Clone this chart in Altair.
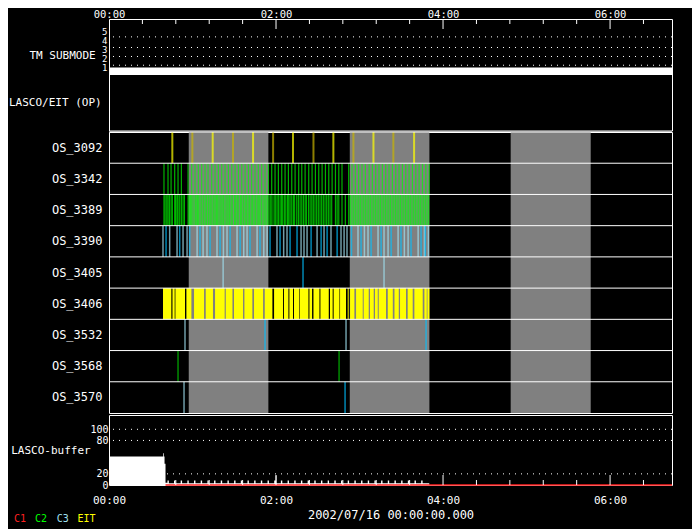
import altair as alt
import pandas as pd

FONT = "DejaVu Sans Mono"

# ---------------- data (time in minutes after 2002/07/16 00:00) ----------------
T_END = 404.5
TIME_LABELS = [0, 120, 240, 360]
MAJOR_TICKS = [120, 240, 360]
MINOR_TICKS = [24, 48, 72, 96, 144, 168, 192, 216, 264, 288, 312, 336, 384]

SUBMODE_T = [0.0, 404.5]
SUBMODE_V = [1, 1]
SUBMODE_LABELS = [1, 2, 3, 4, 5]
SUBMODE_DOTS = [4.37, 3.19, 2.19, 1.22]

ROWS = ["OS_3092", "OS_3342", "OS_3389", "OS_3390", "OS_3405",
        "OS_3406", "OS_3532", "OS_3568", "OS_3570"]

GRAY_START = [57.3, 173.0, 288.6]
GRAY_END = [114.5, 230.2, 346.1]

OS3092_T = [45.5, 59.9, 74.5, 89.1, 103.5, 117.9, 132.2, 146.9, 161.2, 175.6, 190.0, 204.3, 219.2]
OS3092_K = "YOYOYOYOYOYOY"

OS3342_T = [39.5, 42.4, 44.6, 47.2, 49.6, 52.0, 56.8, 59.4, 61.8, 64.2, 66.6, 69.0, 71.2, 73.8,
            76.2, 78.6, 81.0, 83.4, 85.8, 88.2, 90.6, 93.0, 95.4, 97.8, 100.2, 102.5, 104.9,
            107.3, 109.7, 112.1, 114.5, 116.9, 119.3, 121.7, 124.1, 126.5, 128.9, 131.3, 133.7,
            136.3, 138.5, 140.9, 143.5, 145.9, 148.3, 150.7, 153.1, 155.5, 157.9, 160.3, 162.7,
            165.1, 167.4, 172.2, 174.6, 177.0, 179.4, 181.8, 184.2, 186.9, 189.2, 191.6, 194.0,
            196.4, 198.8, 201.2, 203.6, 206.0, 208.4, 210.8, 213.2, 215.6, 218.0, 220.4, 222.8,
            225.2, 227.6, 230.0]

OS3389_T = [39.5, 40.3, 41.5, 42.4, 43.4, 44.6, 45.5, 47.2, 47.9, 48.9, 49.6, 50.8, 52.0, 53.2,
            54.2, 56.8, 57.5, 58.5, 59.4, 60.4, 61.8, 62.5, 63.5, 64.2, 65.4, 66.6, 67.8, 69.0,
            70.0, 71.2, 71.9, 73.1, 74.0, 75.2, 76.2, 77.2, 78.1, 79.1, 80.3, 81.2, 82.2, 83.4,
            84.6, 85.5, 86.5, 87.7, 88.6, 90.1, 91.0, 92.2, 93.2, 94.6, 95.4, 96.6, 97.8, 98.7,
            99.9, 100.9, 102.1, 103.0, 104.2, 105.2, 106.4, 107.3, 108.3, 109.5, 110.7, 111.9,
            112.8, 114.0, 115.0, 116.2, 117.1, 118.6, 119.5, 120.7, 121.7, 122.9, 123.9, 124.8,
            126.0, 127.0, 128.2, 129.1, 130.1, 131.3, 132.5, 133.4, 134.9, 136.1, 137.3, 138.5,
            139.7, 140.9, 141.8, 143.3, 144.5, 145.7, 146.8, 148.0, 149.2, 150.4, 151.6, 152.8,
            154.0, 155.2, 156.4, 157.6, 158.8, 160.0, 162.7, 163.9, 165.1, 167.4, 169.8, 172.2,
            173.4, 174.6, 175.8, 177.0, 178.2, 179.4, 180.6, 181.8, 183.0, 184.2, 185.4, 186.6,
            187.8, 189.0, 190.2, 191.4, 192.6, 193.8, 195.0, 196.2, 197.4, 198.6, 199.8, 201.0,
            202.2, 203.4, 204.6, 205.8, 207.0, 208.2, 209.4, 210.6, 211.8, 213.0, 214.2, 215.3,
            216.5, 217.7, 218.9, 220.1, 221.3, 222.5, 223.7, 224.9, 226.1, 227.3, 228.5, 229.7]

OS3390_T = [38.8, 41.0, 43.6, 48.9, 50.8, 53.2, 56.1, 58.0, 63.3, 65.4, 67.6, 70.4, 72.6, 77.6,
            79.8, 82.2, 84.8, 87.0, 92.0, 94.2, 96.8, 99.2, 101.3, 106.4, 108.5, 111.2, 113.6,
            115.7, 120.7, 122.9, 125.5, 127.9, 130.1, 135.1, 138.0, 140.1, 142.3, 145.2, 149.5,
            152.4, 154.5, 156.7, 159.5, 163.9, 166.7, 168.9, 171.0, 174.2, 178.9, 181.1, 183.5,
            186.1, 188.3, 193.3, 195.5, 197.6, 200.5, 202.7, 207.7, 209.8, 212.2, 214.9, 217.0,
            222.1, 224.2, 226.6, 227.3, 229.5]
OS3390_K = "LCLLCLLCLCLLCLCLLCLCLLCLCLLCLCLLC" + "CLLLCLCLCLCLLLCLCLLCLCLLCLCLLCLCLCL"

OS3405_T = [82.0, 139.4, 197.6]
OS3405_K = "LCL"

OS3406_START = [38.8, 45.6, 47.7, 55.6, 61.1, 69.5, 76.2, 83.9, 89.8, 97.3, 104.2, 111.9, 118.6,
                125.7, 129.6, 132.9, 137.2, 144.0, 146.9, 151.9, 158.8, 161.4, 166.0, 171.5,
                173.2, 177.5, 183.0, 187.5, 191.1, 193.8, 200.3, 205.1, 209.1, 214.6, 219.4,
                226.6, 228.8]
OS3406_END = [44.8, 47.2, 54.6, 59.2, 68.3, 74.7, 83.1, 88.7, 96.3, 103.0, 110.7, 117.4, 125.0,
              128.9, 132.2, 136.8, 143.3, 145.9, 151.2, 157.9, 160.7, 165.6, 170.3, 172.2,
              176.3, 182.3, 186.6, 190.2, 193.1, 199.0, 203.9, 208.2, 213.4, 218.2, 225.4,
              228.3, 230.2]

OS3532_T = [54.6, 112.1, 170.3, 227.8]
OS3532_K = "LCLC"
OS3568_T = [49.6, 165.3]
OS3568_K = "gg"
OS3570_T = [53.9, 169.6]
OS3570_K = "LC"

BUF_T = [0.0, 38.8, 39.3, 39.9, 40.6, 42.0, 43.0, 46.7, 47.7, 51.5, 52.5, 56.3, 57.3, 61.1, 62.1,
         65.9, 66.9, 70.7, 71.7, 75.5, 76.5, 80.3, 81.3, 85.1, 86.1, 89.9, 90.9, 94.7, 95.7,
         99.5, 100.5, 104.3, 105.3, 109.1, 110.1, 113.9, 114.9, 118.7, 119.7, 120.3, 123.5,
         124.5, 128.3, 129.3, 133.1, 134.1, 137.9, 138.9, 142.7, 143.7, 147.5, 148.5, 152.3,
         153.3, 157.1, 158.1, 161.9, 162.9, 166.7, 167.7, 171.5, 172.5, 176.3, 177.3, 181.1,
         182.1, 185.9, 186.9, 190.7, 191.7, 195.5, 196.5, 200.3, 201.3, 205.1, 206.1, 209.9,
         210.9, 214.7, 215.7, 219.5, 220.5, 224.3, 225.3, 229.1, 230.1]
BUF_V = [51, 57, 51, 38, 4, 8, 3, 8, 3, 8, 3, 8, 3, 8, 3,
         8, 3, 8, 3, 8, 3, 8, 3, 8, 3, 8, 3, 8, 3,
         8, 3, 8, 3, 8, 3, 8, 3, 8, 17, 3, 8,
         3, 8, 3, 8, 3, 8, 3, 8, 3, 8, 3, 8,
         3, 8, 3, 8, 3, 8, 3, 8, 3, 8, 3, 8,
         3, 8, 3, 8, 3, 8, 3, 8, 3, 8, 3, 8,
         3, 8, 3, 8, 3, 8, 3, 3, 0]
BUF_LABELS = [0, 20, 80, 100]
BUF_DOTS = [20, 80, 100]
C1_T = [40.6, 404.5]
C1_V = [0, 0]

LEGEND_LABELS = ["C1", "C2", "C3", "EIT"]
LEGEND_COLORS = ["#ff2020", "#00ff00", "#a0e0f0", "#ffff00"]

KINDS = ["Y", "O", "G", "g", "L", "C"]
KIND_COLORS = ["#ffff00", "#c8b400", "#00ff00", "#00c800", "#a0e0f0", "#00c0ff"]

# ---------------- layout ----------------
W = 563
H1, H2, H3 = 111.5, 281, 70
SUB_PX = 9.0
sub_lo = 1 - 63.3 / SUB_PX
sub_hi = sub_lo + H1 / SUB_PX
buf_hi = H3 / 0.557

label_expr = "'0' + floor(datum.value / 60) + ':00'"


def time_axis(orient, title=None):
    kw = dict(orient=orient, values=TIME_LABELS, labelExpr=label_expr, ticks=False, tickSize=0,
              domain=False, grid=False, labelFont=FONT, labelColor="white",
              labelFlush=False, labelOverlap=False)
    if orient == "top":
        kw.update(labelPadding=0, labelFontSize=10.5)
    else:
        kw.update(labelPadding=9, labelFontSize=11, title=title, titleFont=FONT, titleFontSize=12,
                  titleFontWeight="normal", titleColor="white", titlePadding=4)
    return alt.Axis(**kw)


xscale = alt.Scale(domain=[0, T_END], nice=False, zero=False)


def X(field, axis):
    return alt.X(f"{field}:Q", scale=xscale, axis=axis, title=None if axis is None else axis.to_dict().get("title"))


def text_layer(txt, x, y, size=11, align="right", color="white"):
    return alt.Chart(pd.DataFrame({"label": [txt]})).mark_text(
        align=align, baseline="middle", font=FONT, fontSize=size, color=color
    ).encode(text="label:N", x=alt.value(x), y=alt.value(y))


# ---- panel 1: TM submode + LASCO/EIT (OP)
top_ax = time_axis("top")
sub_scale = alt.Scale(domain=[sub_lo, sub_hi], nice=False, zero=False)
sub_axis = alt.Axis(values=SUBMODE_LABELS, ticks=False, tickSize=0, domain=False, grid=False,
                    labelPadding=2, labelFontSize=9, labelFont=FONT, labelColor="white",
                    labelOverlap=False, title=None)
sub_df = pd.DataFrame({"t": SUBMODE_T, "v": SUBMODE_V})
p1 = alt.layer(
    alt.Chart(pd.DataFrame({"v": SUBMODE_DOTS})).mark_rule(color="white", strokeDash=[1, 5]).encode(
        y=alt.Y("v:Q", scale=sub_scale, axis=sub_axis)),
    alt.Chart(sub_df).mark_line(color="white", strokeWidth=7.4, yOffset=4, strokeCap="butt").encode(
        x=X("t", top_ax), y=alt.Y("v:Q", scale=sub_scale, axis=sub_axis)),
    alt.Chart(pd.DataFrame({"t": MINOR_TICKS})).mark_rule(color="white").encode(
        x=X("t", top_ax), y=alt.value(0), y2=alt.value(5)),
    alt.Chart(pd.DataFrame({"t": MAJOR_TICKS})).mark_rule(color="white").encode(
        x=X("t", top_ax), y=alt.value(0), y2=alt.value(10)),
    text_layer("TM SUBMODE", -13.3, H1 - 74.3),
    text_layer("LASCO/EIT (OP)", -7.3, H1 - 27.3),
).properties(width=W, height=H1)

# ---- panel 2: OS rows
def ev(row, times, kinds):
    return pd.DataFrame({"row": row, "t": times, "kind": list(kinds)})

dense_df = pd.concat([
    ev("OS_3342", OS3342_T, "G" * len(OS3342_T)),
    ev("OS_3389", OS3389_T, "G" * len(OS3389_T)),
])
sparse_df = pd.concat([
    ev("OS_3390", OS3390_T, OS3390_K),
    ev("OS_3405", OS3405_T, OS3405_K),
    ev("OS_3532", OS3532_T, OS3532_K),
    ev("OS_3568", OS3568_T, OS3568_K),
    ev("OS_3570", OS3570_T, OS3570_K),
])
ev92 = ev("OS_3092", OS3092_T, OS3092_K)
seg_df = pd.DataFrame({"row": "OS_3406", "start": OS3406_START, "end": OS3406_END})
gray_df = pd.DataFrame({"start": GRAY_START, "end": GRAY_END})

row_scale = alt.Scale(domain=ROWS, paddingInner=0, paddingOuter=0)
row_axis = alt.Axis(ticks=False, tickSize=0, domain=False, grid=False, labelPadding=7,
                    labelFontSize=12, labelFont=FONT, labelColor="white", title=None)
color_scale = alt.Scale(domain=KINDS, range=KIND_COLORS)
band = H2 / len(ROWS)


def tick_layer(df, thick):
    return alt.Chart(df).mark_tick(thickness=thick, size=band).encode(
        x=X("t", None), y=alt.Y("row:N", scale=row_scale, axis=row_axis),
        color=alt.Color("kind:N", scale=color_scale, legend=None))


p2 = alt.layer(
    alt.Chart(gray_df).mark_rect(color="#808080").encode(x=X("start", None), x2="end:Q"),
    alt.Chart(seg_df).mark_rect(color="#ffff00").encode(
        x=X("start", None), x2="end:Q", y=alt.Y("row:N", scale=row_scale, axis=row_axis)),
    tick_layer(dense_df, 1.2),
    tick_layer(sparse_df, 1.5),
    tick_layer(ev92, 2),
    alt.Chart(pd.DataFrame({"row": ROWS})).mark_rule(color="white").encode(
        y=alt.Y("row:N", scale=row_scale, axis=row_axis, bandPosition=0)),
).properties(width=W, height=H2)

# ---- panel 3: LASCO buffer
bot_ax = time_axis("bottom", title="2002/07/16 00:00:00.000")
buf_scale = alt.Scale(domain=[0, buf_hi], nice=False, zero=False)
buf_axis = alt.Axis(values=BUF_LABELS, ticks=False, tickSize=0, domain=False, grid=False,
                    labelPadding=1, labelFontSize=10, labelFont=FONT, labelColor="white",
                    labelOverlap=False, title=None)
buf_df = pd.DataFrame({"t": BUF_T, "v": BUF_V})
legend_x = [-95, -74, -52.3, -31.6]
p3_layers = [
    alt.Chart(pd.DataFrame({"v": BUF_DOTS})).mark_rule(color="white", strokeDash=[1, 5]).encode(
        y=alt.Y("v:Q", scale=buf_scale, axis=buf_axis)),
    alt.Chart(buf_df).mark_area(color="white", interpolate="step-after", opacity=1).encode(
        x=X("t", bot_ax), y=alt.Y("v:Q", scale=buf_scale, axis=buf_axis)),
    alt.Chart(pd.DataFrame({"t": C1_T, "v": C1_V})).mark_line(color="#ff2020", strokeWidth=1.5).encode(
        x=X("t", bot_ax), y=alt.Y("v:Q", scale=buf_scale, axis=buf_axis)),
    alt.Chart(pd.DataFrame({"t": MINOR_TICKS})).mark_rule(color="white").encode(
        x=X("t", bot_ax), y=alt.value(H3), y2=alt.value(H3 - 5)),
    alt.Chart(pd.DataFrame({"t": MAJOR_TICKS})).mark_rule(color="white").encode(
        x=X("t", bot_ax), y=alt.value(H3), y2=alt.value(H3 - 10)),
    text_layer("LASCO-buffer", -18.3, 36),
]
for lab, col, lx in zip(LEGEND_LABELS, LEGEND_COLORS, legend_x):
    p3_layers.append(text_layer(lab, lx, 103.7, size=10, align="left", color=col))
p3 = alt.layer(*p3_layers).properties(width=W, height=H3)

chart = alt.vconcat(p1, p2, p3, spacing=0).resolve_scale(
    x="independent", y="independent", color="independent"
).properties(
    padding={"left": 0, "top": 0, "right": 4, "bottom": 4}
).configure(background="black").configure_view(stroke="white", strokeWidth=1)

chart.save("out.html", embed_options={"renderer": "svg", "actions": False})
